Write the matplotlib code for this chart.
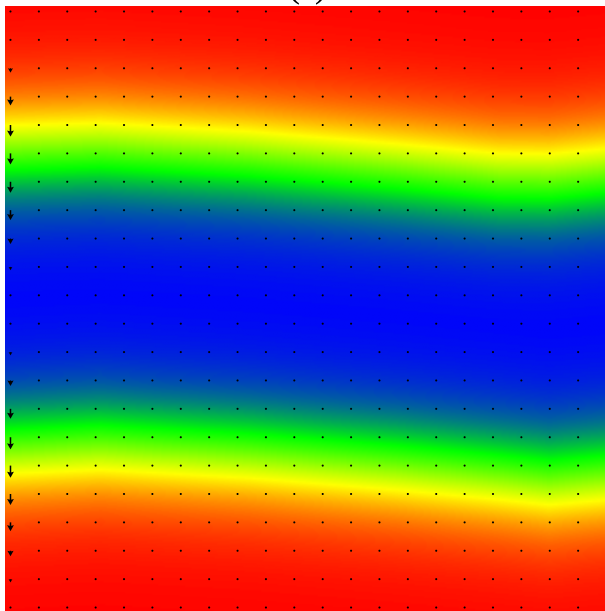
import numpy as np
import matplotlib
matplotlib.use("Agg")
import matplotlib.pyplot as plt
from matplotlib.colors import LinearSegmentedColormap

# quiver grid (22 x 22 nodes over the unit square)
n_nodes = 22

# downward speed on the inflow column (x = 0), listed from top row to bottom row
inflow_speed = [0.1, 0.1, 0.4, 0.8, 1.05, 1.0, 1.0, 0.9, 0.5, 0.3, 0.1,
                0.1, 0.3, 0.5, 0.9, 1.1, 1.1, 1.0, 0.8, 0.5, 0.3, 0.1]

# phase interface (phi = 0.5) positions along the channel
interface_x = [-0.01, 0.15, 0.40, 0.65, 0.82, 0.905, 1.01]
upper_interface_y = [0.772, 0.776, 0.762, 0.741, 0.725, 0.724, 0.734]
lower_interface_y = [0.261, 0.268, 0.254, 0.234, 0.218, 0.209, 0.218]
interface_width = 0.109

margin = 0.0092
field_colors = ["#0000ff", "#00ff00", "#ffff00", "#ff0000"]

cmap = LinearSegmentedColormap.from_list("phase", field_colors)

# phase field on a fine grid
gx = np.linspace(-margin, 1 + margin, 400)
gy = np.linspace(-margin, 1 + margin, 400)
GX, GY = np.meshgrid(gx, gy)
up = np.interp(gx, interface_x, upper_interface_y)[None, :]
lo = np.interp(gx, interface_x, lower_interface_y)[None, :]
phi_up = 0.5 * (1 + np.tanh((GY - up) / interface_width))
phi_lo = 0.5 * (1 + np.tanh((lo - GY) / interface_width))
phi = np.maximum(phi_up, phi_lo)

# velocity field
xs = np.linspace(0, 1, n_nodes)
ys = np.linspace(0, 1, n_nodes)
X, Y = np.meshgrid(xs, ys)
U = np.zeros_like(X)
V = np.zeros_like(Y)
V[:, 0] = -np.array(inflow_speed)[::-1]

fig = plt.figure(figsize=(6.05, 6.11), dpi=100)
ax = fig.add_axes([5 / 605, -2 / 611, 607 / 605, 607 / 611])

ax.imshow(
    phi,
    extent=[-margin, 1 + margin, -margin, 1 + margin],
    origin="lower",
    cmap=cmap,
    vmin=0,
    vmax=1,
    interpolation="bilinear",
    aspect="auto"
)

ax.quiver(
    X, Y, U, V,
    angles="xy",
    scale_units="xy",
    scale=54,
    width=0.0025,
    headwidth=4.5,
    headlength=4,
    headaxislength=3.5,
    minlength=1.5,
    color="black"
)

ax.set_xlim(-margin, 1 + margin)
ax.set_ylim(-margin, 1 + margin)
ax.axis("off")

fig.text(
    307 / 605, 1 + 3.8 / 611, "(a)",
    ha="center", va="baseline",
    fontsize=26, family="Liberation Serif"
)

fig.savefig("out.png", dpi=100)
plt.close(fig)
